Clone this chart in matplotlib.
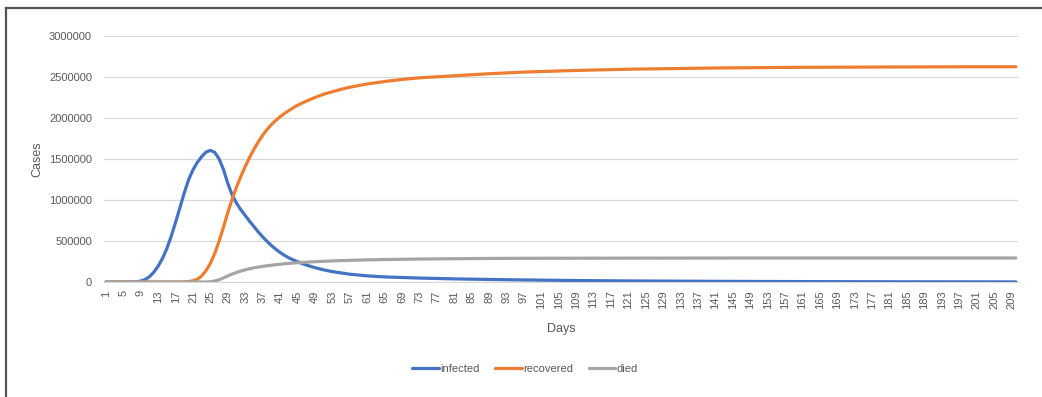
import numpy as np
import matplotlib
matplotlib.use("Agg")
import matplotlib.pyplot as plt
from matplotlib.lines import Line2D

plt.rcParams['font.family'] = ['Liberation Sans', 'DejaVu Sans']

# values (days, cases)
inf_days = [1, 5, 8, 9, 10, 11, 12, 13, 14, 15, 16, 17, 18, 19, 20, 21, 22, 23, 24, 25,
            26, 27, 28, 29, 30, 31, 32, 33, 34, 35, 36, 37, 38, 39, 40, 41, 42, 43, 44,
            45, 47, 49, 51, 53, 57, 61, 65, 73, 81, 89, 97, 109, 121, 141, 161, 181, 201, 210]
infected = [0, 0, 3000, 12000, 30000, 65000, 120000, 195000, 290000, 410000, 560000,
            730000, 910000, 1090000, 1250000, 1370000, 1460000, 1530000, 1585000, 1605000,
            1580000, 1500000, 1370000, 1200000, 1060000, 960000, 880000, 810000, 740000,
            675000, 610000, 550000, 495000, 445000, 400000, 360000, 325000, 295000, 270000,
            247000, 207000, 175000, 148000, 127000, 95000, 75000, 62000,
            48000, 38000, 31000, 25000, 18000, 13000, 8000, 5000, 3000, 2000, 1500]

rec_days = [1, 18, 19, 20, 21, 22, 23, 24, 25, 26, 27, 28, 29, 30, 31, 32, 33, 34, 35,
            36, 37, 38, 39, 40, 41, 42, 43, 44, 45, 47, 49, 51, 53, 55, 57, 61, 65, 69, 73,
            81, 89, 97, 109, 121, 141, 161, 181, 201, 210]
recovered = [0, 0, 2000, 6000, 15000, 35000, 75000, 140000, 230000, 350000, 500000,
             670000, 850000, 1010000, 1160000, 1290000, 1410000, 1520000, 1620000, 1710000,
             1790000, 1860000, 1920000, 1970000, 2015000, 2055000, 2090000, 2125000,
             2155000, 2205000, 2250000, 2290000, 2320000, 2350000, 2375000, 2415000,
             2445000, 2470000, 2490000, 2515000, 2540000, 2560000, 2580000, 2595000,
             2610000, 2618000, 2622000, 2625000, 2625000]

died_days = [1, 24, 25, 26, 27, 28, 29, 30, 31, 32, 33, 34, 35, 37, 39, 41, 43, 45, 47,
             49, 53, 57, 61, 65, 73, 81, 89, 97, 109, 121, 141, 161, 181, 201, 210]
died = [0, 0, 3000, 12000, 28000, 50000, 75000, 97000, 117000, 134000, 149000, 162000,
        173000, 191000, 205000, 217000, 227000, 235000, 242000, 248000, 257000, 264000,
        270000, 274000, 280000, 284000, 287000, 289000, 290000, 291000, 292000, 293000,
        293000, 293000, 293000]

tick_days = list(range(1, 210, 4))
y_ticks = [0, 500000, 1000000, 1500000, 2000000, 2500000, 3000000]

fig = plt.figure(figsize=(10.42, 3.97), dpi=100)
ax = fig.add_axes([103.8 / 1042, 115 / 397, (1018 - 103.8) / 1042, 246 / 397])

ax.plot(inf_days, infected, color="#4472C4", lw=2.3, label="infected", solid_capstyle="round")
ax.plot(rec_days, recovered, color="#ED7D31", lw=2.3, label="recovered", solid_capstyle="round")
ax.plot(died_days, died, color="#A5A5A5", lw=2.3, label="died", solid_capstyle="round")

ax.set_xlim(0.5, 210.5)
ax.set_ylim(0, 3000000)
ax.set_xticks(tick_days)
ax.set_xticklabels([str(d) for d in tick_days], rotation=90)
ax.set_yticks(y_ticks)
ax.set_yticklabels([str(v) for v in y_ticks])
ax.tick_params(axis="both", length=0, labelsize=8, labelcolor="#595959")
ax.tick_params(axis="x", pad=6)
ax.tick_params(axis="y", pad=8.5)

ax.grid(axis="y", color="#D9D9D9", lw=0.9)
ax.set_axisbelow(True)
for s in ["top", "right", "left"]:
    ax.spines[s].set_visible(False)
ax.spines["bottom"].set_color("#D9D9D9")
ax.spines["bottom"].set_zorder(0.5)

ax.set_xlabel("Days", fontsize=9, color="#595959", labelpad=10)
ax.set_ylabel("Cases", fontsize=9, color="#595959")
ax.yaxis.set_label_coords(-0.0665, 0.5)

fig.legend(loc="center", bbox_to_anchor=(525 / 1042, 1 - 369 / 397), ncol=3,
           frameon=False, fontsize=8, handlelength=2.4, handletextpad=0.1,
           columnspacing=1.4, labelcolor="#595959")

# outer frame (left and top edges visible)
fig.add_artist(Line2D([6 / 1042, 6 / 1042], [0, 1 - 8 / 397], color="#555555", lw=1.6,
                      transform=fig.transFigure))
fig.add_artist(Line2D([6 / 1042, 1], [1 - 8 / 397, 1 - 8 / 397], color="#555555", lw=1.6,
                      transform=fig.transFigure))

fig.savefig("out.png", dpi=100)
